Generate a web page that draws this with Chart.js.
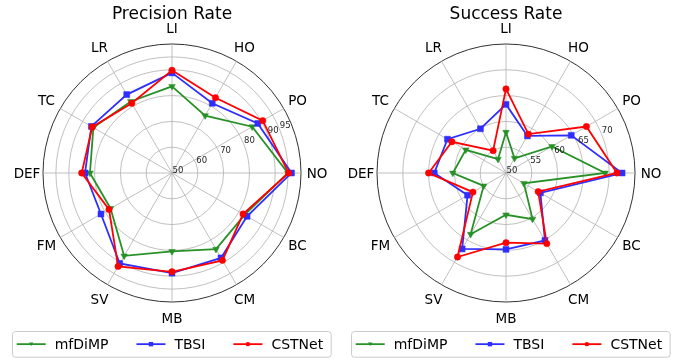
<!DOCTYPE html>
<html><head><meta charset="utf-8">
<script src="https://cdn.jsdelivr.net/npm/chart.js@4.4.0/dist/chart.umd.min.js"></script>
<style>
html,body{margin:0;padding:0;background:#fff;}
#wrap{position:relative;width:681px;height:358px;background:#fff;}
canvas{position:absolute;left:0;top:0;}
</style></head><body>
<div id="wrap"><canvas id="c1" width="681" height="358"></canvas><canvas id="c2" width="681" height="358"></canvas></div>
<script>
// ---- data ----
const categories = ['LI','HO','PO','NO','BC','CM','MB','SV','FM','DEF','TC','LR'];
const seriesNames = ['mfDiMP','TBSI','CSTNet'];

const precisionMfDiMP = [83.6, 75.7, 85.9, 94.9, 82.5, 84.1, 80.4, 87.1, 77.5, 81.8, 85.2, 82.0];
const precisionTBSI   = [88.8, 81.2, 88.4, 96.3, 83.6, 88.0, 88.8, 90.5, 81.8, 83.7, 86.1, 85.1];
const precisionCSTNet = [89.8, 83.7, 90.6, 95.2, 81.8, 89.1, 88.3, 91.8, 78.2, 85.0, 85.7, 81.2];

const successMfDiMP = [57.9, 53.3, 60.3, 69.2, 54.0, 60.3, 58.1, 63.7, 55.0, 60.3, 59.0, 53.1];
const successTBSI   = [63.3, 58.3, 64.6, 72.5, 57.7, 65.1, 64.8, 67.0, 58.6, 63.9, 63.1, 59.9];
const successCSTNet = [66.3, 58.7, 68.0, 71.5, 57.2, 65.8, 63.5, 68.8, 57.4, 65.0, 62.1, 55.0];

const precisionTicks = [50, 60, 70, 80, 90, 95];
const precisionRange = [50, 100];
const successTicks = [50, 55, 60, 65, 70];
const successRange = [50, 75];

// ---- styles ----
const COLORS = ['#279127', '#2e2eff', '#ff0000'];
const STYLES = ['triangle', 'rect', 'circle'];
const RADII = [3.8, 4.2, 3.2];
const ROT = [180, 0, 0];
const FONT = '"DejaVu Sans", "Liberation Sans", sans-serif';

function drawMarker(ctx, style, x, y, s, color) {
  ctx.fillStyle = color;
  ctx.beginPath();
  if (style === 'triangle') {
    ctx.moveTo(x - s, y - s * 0.75);
    ctx.lineTo(x + s, y - s * 0.75);
    ctx.lineTo(x, y + s * 0.85);
    ctx.closePath();
  } else if (style === 'rect') {
    ctx.rect(x - s, y - s, 2 * s, 2 * s);
  } else {
    ctx.arc(x, y, s, 0, Math.PI * 2);
  }
  ctx.fill();
}

const decor = {
  id: 'decor',
  afterDatasetsDraw(chart, args, opts) {
    const ctx = chart.ctx;
    const s = chart.scales.r;
    ctx.save();
    // radial tick labels at 22.5 deg
    ctx.font = '8.5px ' + FONT;
    ctx.fillStyle = '#262626';
    ctx.textAlign = 'left';
    ctx.textBaseline = 'alphabetic';
    const a = 22.5 * Math.PI / 180;
    opts.tickLabels.forEach(v => {
      const r = s.getDistanceFromCenterForValue(v);
      ctx.fillText(String(v), s.xCenter + r * Math.cos(a) + 0.5, s.yCenter - r * Math.sin(a) - 0.5);
    });
    // category labels
    ctx.font = '13.5px ' + FONT;
    ctx.fillStyle = '#000';
    ctx.textAlign = 'center';
    chart.data.labels.forEach((lab, i) => {
      const p = s.getPointPosition(i, s.drawingArea + 16);
      ctx.fillText(lab, p.x, p.y + 13.5 * 0.365);
    });
    // title
    ctx.font = '17px ' + FONT;
    ctx.fillText(opts.title, s.xCenter, 19);
    // legend
    const lx = opts.legendX, ly = 331, lh = 25.7;
    ctx.font = '14px ' + FONT;
    const widths = chart.data.datasets.map(d => ctx.measureText(d.label).width);
    const lw = 4.7 + widths.reduce((p, w) => p + 38 + w, 0) + 2 * 28 + 7.5;
    ctx.beginPath();
    if (ctx.roundRect) ctx.roundRect(lx + 0.5, ly + 0.5, lw, lh, 3); else ctx.rect(lx + 0.5, ly + 0.5, lw, lh);
    ctx.fillStyle = 'rgba(255,255,255,0.8)';
    ctx.fill();
    ctx.strokeStyle = '#cccccc';
    ctx.lineWidth = 1;
    ctx.stroke();
    let x = lx + 4.7;
    const cy = ly + lh / 2 + 0.3;
    chart.data.datasets.forEach((d, i) => {
      ctx.strokeStyle = COLORS[i];
      ctx.lineWidth = 1.8;
      ctx.beginPath();
      ctx.moveTo(x, cy); ctx.lineTo(x + 29, cy);
      ctx.stroke();
      drawMarker(ctx, STYLES[i], x + 14.5, cy, 2.2, COLORS[i]);
      ctx.fillStyle = '#000';
      ctx.textAlign = 'left';
      ctx.fillText(d.label, x + 38, cy + 14 * 0.365);
      x += 38 + widths[i] + 28;
    });
    ctx.restore();
  }
};

function makeChart(id, seriesList, range, tickVals, title, pad, legendX) {
  const extraTicks = tickVals.concat([range[1]]);
  return new Chart(document.getElementById(id), {
    type: 'radar',
    data: {
      labels: categories,
      datasets: seriesList.map((vals, i) => ({
        label: seriesNames[i],
        data: vals,
        borderColor: COLORS[i],
        backgroundColor: COLORS[i],
        borderWidth: 1.8,
        fill: false,
        tension: 0,
        pointStyle: STYLES[i],
        pointRadius: RADII[i],
        pointRotation: ROT[i],
        pointBackgroundColor: COLORS[i],
        pointBorderColor: COLORS[i],
        pointBorderWidth: 0.5,
        order: 2 - i
      }))
    },
    options: {
      responsive: false,
      animation: false,
      devicePixelRatio: 1,
      layout: { padding: pad },
      plugins: {
        legend: { display: false },
        tooltip: { enabled: false },
        decor: { title: title, tickLabels: tickVals, legendX: legendX }
      },
      scales: {
        r: {
          min: range[0],
          max: range[1],
          beginAtZero: false,
          afterBuildTicks: (scale) => { scale.ticks = extraTicks.map(v => ({ value: v })); },
          ticks: { display: false },
          pointLabels: { display: false },
          angleLines: { display: true, color: '#b0b0b0', lineWidth: 0.8 },
          grid: {
            circular: true,
            color: (c) => (c.tick && c.tick.value === range[1]) ? '#1a1a1a' : '#b0b0b0',
            lineWidth: (c) => (c.tick && c.tick.value === range[1]) ? 0.9 : 0.8
          }
        }
      }
    },
    plugins: [decor]
  });
}

makeChart('c1', [precisionMfDiMP, precisionTBSI, precisionCSTNet], precisionRange, precisionTicks,
  'Precision Rate', { left: 43, top: 44, right: 379, bottom: 55 }, 12);
makeChart('c2', [successMfDiMP, successTBSI, successCSTNet], successRange, successTicks,
  'Success Rate', { left: 377, top: 44, right: 45, bottom: 55 }, 351);
</script>
</body></html>
